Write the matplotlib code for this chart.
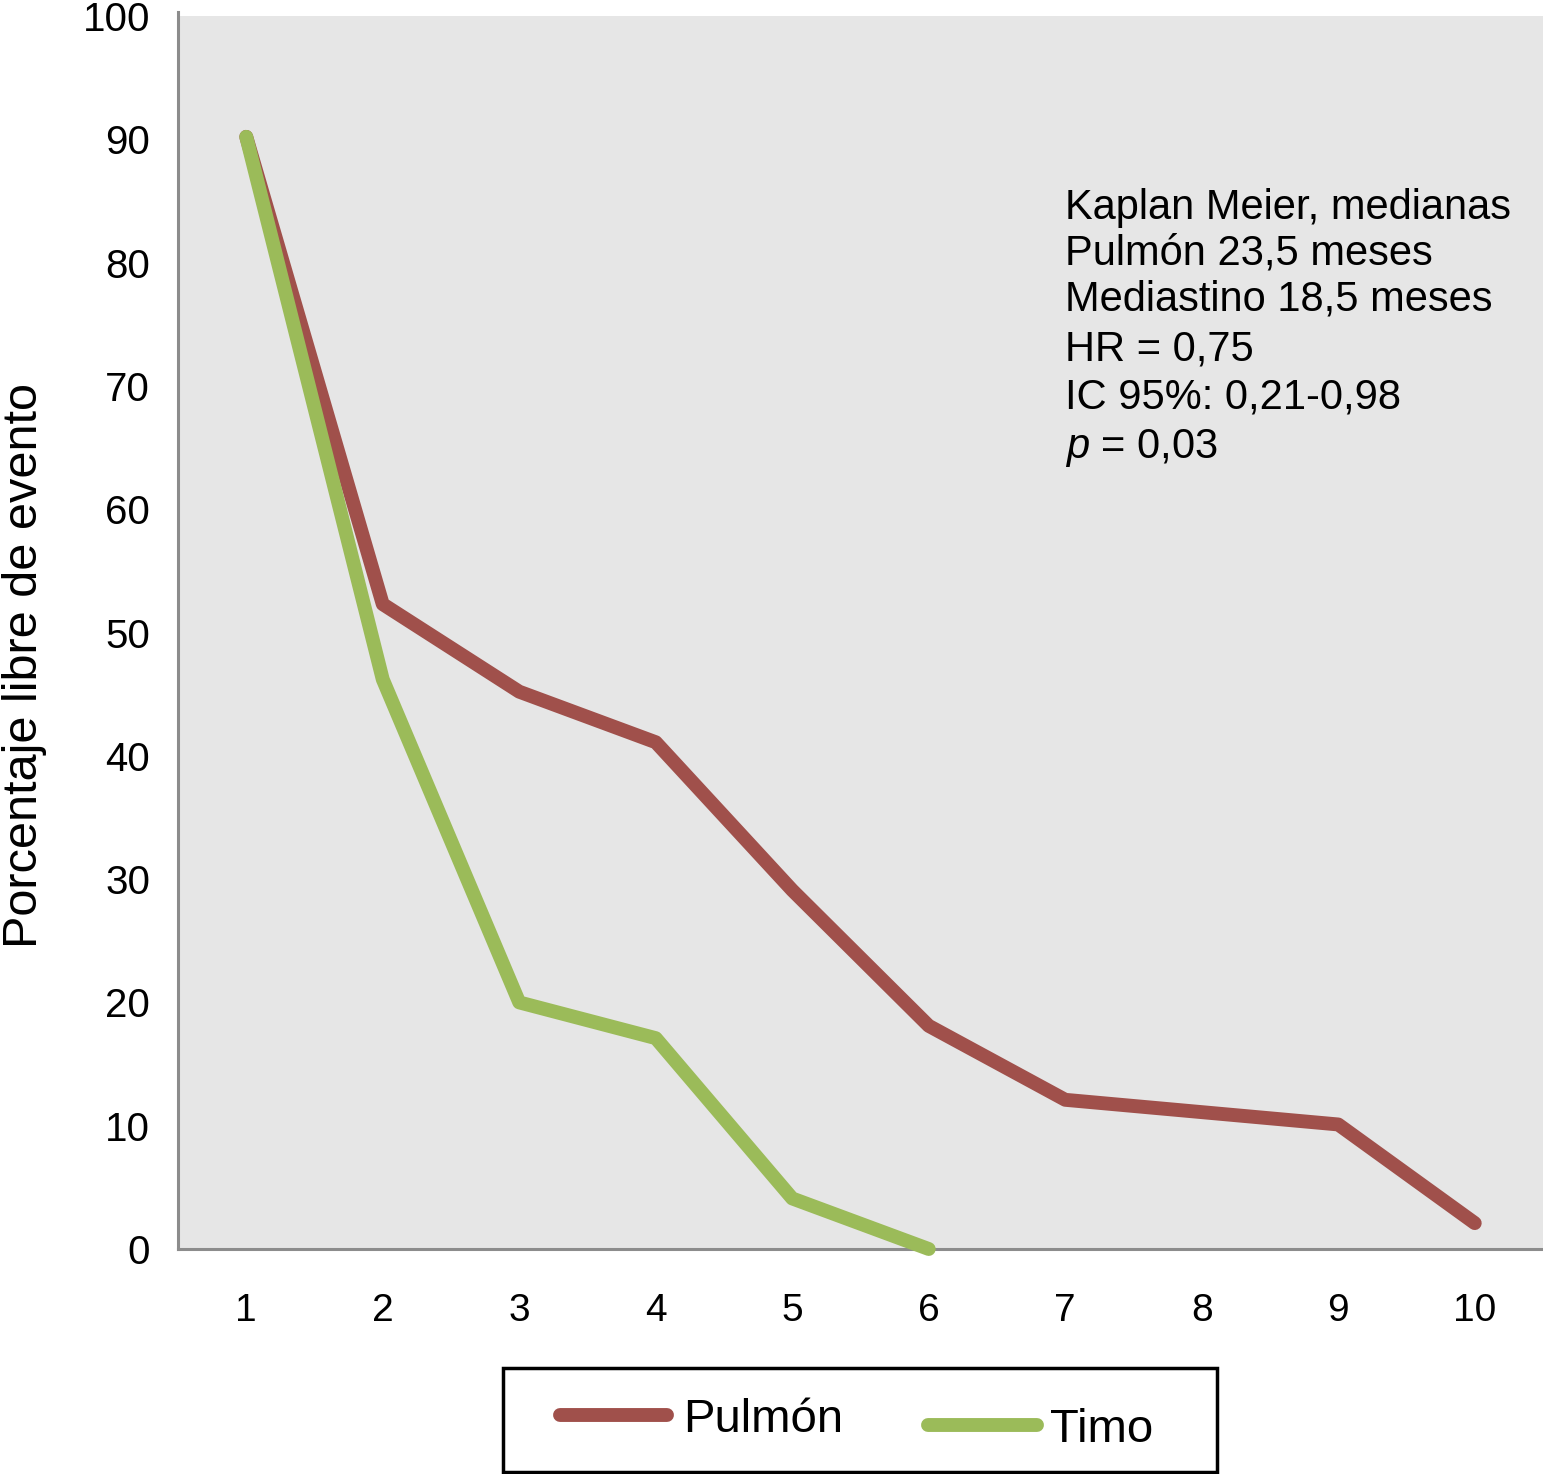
import matplotlib
matplotlib.use("Agg")
import matplotlib.pyplot as plt
from matplotlib.lines import Line2D
from matplotlib.patches import Rectangle

plt.rcParams['font.family'] = ['Liberation Sans', 'DejaVu Sans']
plt.rcParams['mathtext.fontset'] = 'custom'
plt.rcParams['mathtext.rm'] = 'Liberation Sans'
plt.rcParams['mathtext.it'] = 'Liberation Sans:italic'

# Data
x_labels = ['1', '2', '3', '4', '5', '6', '7', '8', '9', '10']
series_names = ['Pulmón', 'Timo']
pulmon = [90.2, 52.3, 45.2, 41.1, 29.1, 18.1, 12.1, 11.1, 10.1, 2.1]
timo = [90.2, 46.2, 20.0, 17.1, 4.1, 0.0]
y_ticks = [0, 10, 20, 30, 40, 50, 60, 70, 80, 90, 100]
annot_lines = ['Kaplan Meier, medianas', 'Pulmón 23,5 meses',
               'Mediastino 18,5 meses', 'HR = 0,75', 'IC 95%: 0,21-0,98',
               '$p$ = 0,03']

colors = ['#a0504b', '#9bbb59']

W, H = 1543, 1474
fig = plt.figure(figsize=(W / 100, H / 100), dpi=100)
ax = fig.add_axes([178 / W, 1 - 1249 / H, (1543 - 178) / W, (1249 - 16) / H])
ax.set_facecolor('#e6e6e6')

xs_p = list(range(1, len(pulmon) + 1))
xs_t = list(range(1, len(timo) + 1))
ax.plot(xs_p, pulmon, color=colors[0], lw=10, solid_capstyle='round',
        solid_joinstyle='round', clip_on=False, zorder=3)
ax.plot(xs_t, timo, color=colors[1], lw=10, solid_capstyle='round',
        solid_joinstyle='round', clip_on=False, zorder=4)

ax.set_xlim(0.5, 10.5)
ax.set_ylim(0, 100)
ax.set_xticks(range(1, len(x_labels) + 1))
ax.set_xticklabels(x_labels)
ax.set_yticks(y_ticks)
ax.set_yticklabels([str(v) for v in y_ticks])
ax.tick_params(axis='both', length=0)
ax.tick_params(axis='y', labelsize=29, pad=20)
ax.tick_params(axis='x', labelsize=28, pad=32)

for s in ['top', 'right']:
    ax.spines[s].set_visible(False)
for s in ['left', 'bottom']:
    ax.spines[s].set_color('#8c8c8c')
    ax.spines[s].set_linewidth(2.2)
ax.spines['left'].set_bounds(0, 100.3)

fig.text(25 / W, 1 - 665 / H, 'Porcentaje libre de evento', rotation=90,
         ha='center', va='center', fontsize=35)

# Annotation
baselines = [219, 265, 311, 361, 408, 458]
for line, b in zip(annot_lines, baselines):
    fig.text(1065 / W, 1 - b / H, line, fontsize=30, va='baseline', ha='left')

# Legend (manual)
fig.add_artist(Rectangle((503 / W, 1 - 1472 / H), (1217 - 503) / W, (1472 - 1368) / H,
                         transform=fig.transFigure, fill=False, edgecolor='black',
                         linewidth=2.5))
leg_items = [(560, 667, 1415, 683, 1420), (928, 1037, 1425, 1050, 1430)]
for (x0, x1, yl, xt, yt), name, c in zip(leg_items, series_names, colors):
    fig.add_artist(Line2D([x0 / W, x1 / W], [1 - yl / H, 1 - yl / H],
                          transform=fig.transFigure, color=c, lw=10,
                          solid_capstyle='round'))
    fig.text(xt / W, 1 - yt / H, name, fontsize=34, ha='left', va='center')

fig.savefig('out.png', dpi=100)
